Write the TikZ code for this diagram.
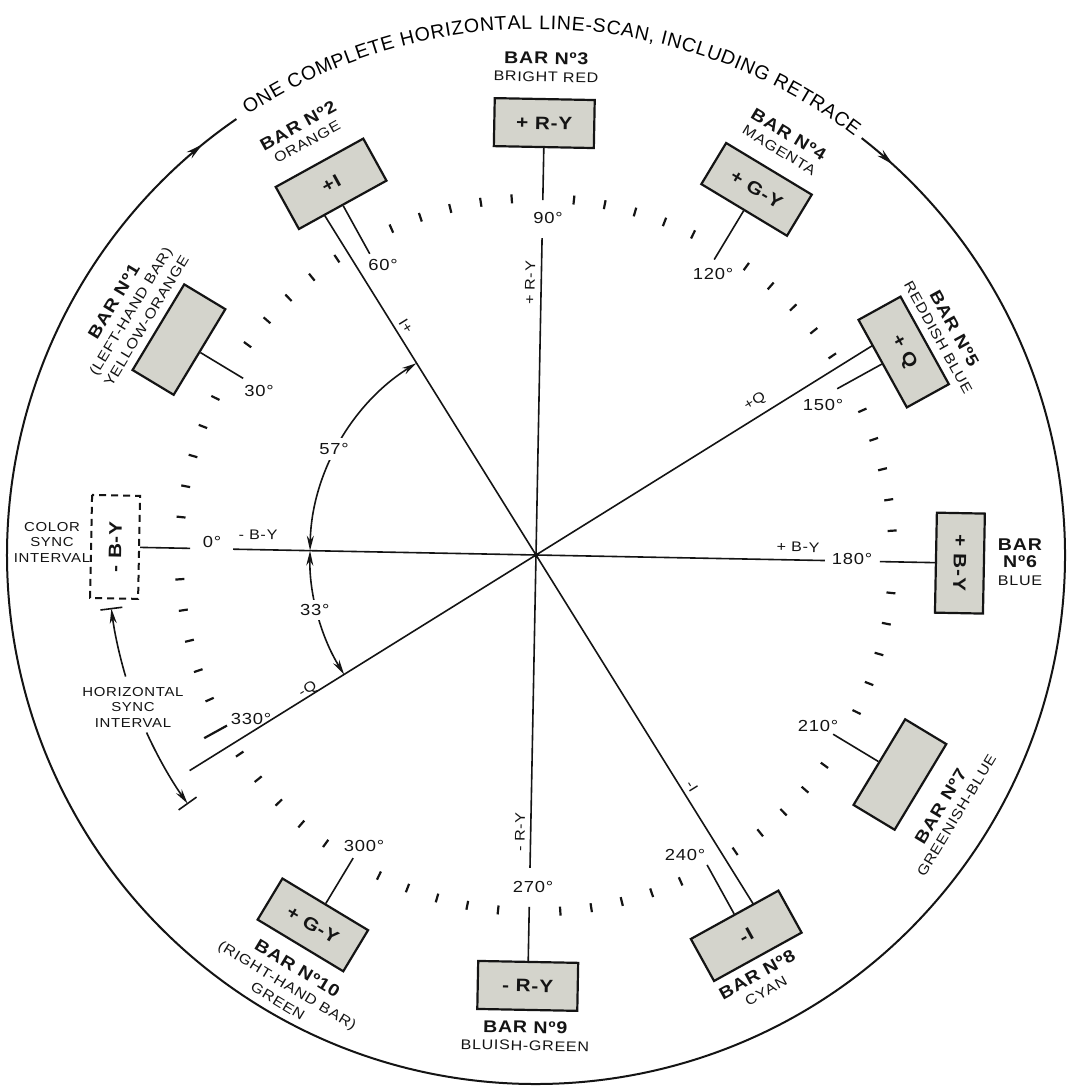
\documentclass[tikz,border=0pt]{standalone}
\usepackage{fontspec}
\setmainfont{Liberation Sans}
\newfontfamily\lsp[LetterSpace=5,FakeStretch=1.15]{Liberation Sans}
\newfontfamily\lspb[LetterSpace=5,FakeStretch=1.15]{Liberation Sans Bold}
\usetikzlibrary{arrows.meta,decorations.text,decorations.markings}
\pgfdeclarelayer{background}
\pgfsetlayers{background,main}
\definecolor{boxgray}{RGB}{212,212,204}
\definecolor{ink}{RGB}{20,20,20}
\newcommand\bartf{\lspb\fontsize{17}{17}\selectfont}
\newcommand\barsf{\lsp\fontsize{14}{17.5}\selectfont}
\newcommand\barsfw{\lsp\fontsize{14}{18.5}\selectfont}
\newcommand\degf{\lsp\fontsize{16}{17}\selectfont}
\newcommand\axf{\lsp\fontsize{14}{15}\selectfont}
\newcommand\boxf{\lspb\fontsize{18}{18}\selectfont}
\newcommand\smf{\lsp\fontsize{13}{15.5}\selectfont}
\newcommand\titlef{\fontsize{19.5}{20}\selectfont}
\begin{document}
\begin{tikzpicture}[x=1pt,y=1pt,
  every node/.style={text=ink},
  ax/.style={line width=1.6pt, draw=ink},
  tickmark/.style={line width=2.2pt, draw=ink},
  barbox/.style={draw=ink, line width=2.2pt, fill=boxgray, minimum width=100pt, minimum height=48pt, inner sep=0pt, font=\boxf},
  dashbox/.style={draw=ink, line width=2pt, dash pattern=on 7pt off 5pt, minimum width=103pt, minimum height=48pt, inner sep=0pt, font=\boxf},
  barlab/.style={align=center, font=\barsf, inner sep=0pt},
  barlabw/.style={align=center, font=\barsfw, inner sep=0pt},
  deg/.style={font=\degf, inner sep=1pt},
  axl/.style={font=\axf, inner sep=0pt},
  smlab/.style={align=center, font=\smf, inner sep=0pt},
  arctip/.style={{Stealth[length=15pt,width=7pt]}-{Stealth[length=15pt,width=7pt]}},
  onetip/.style={-{Stealth[length=15pt,width=7pt]}},
]
\useasboundingbox (0,0) rectangle (1070,1087);
\begin{pgfonlayer}{background}
\fill[white] (0,0) rectangle (1070,1087);
\end{pgfonlayer}
\begin{scope}[shift={(536,532)}]
\coordinate (C) at (0,0);
% outer scan circle with arrows
\draw[line width=2pt, draw=ink, postaction={decorate}, decoration={markings,
   mark=at position 0.0153 with {\arrow{Stealth[length=17pt,width=8pt]}},
   mark=at position 0.984 with {\arrow{Stealth[length=17pt,width=8pt]}}}]
   (52:529) arc[start angle=52, end angle=-235.5, radius=529];
% title along the arc
\path[decorate, decoration={text along path,
   text={|\titlef|ONE COMPLETE HORIZONTAL LINE-SCAN, INCLUDING RETRACE},
   text align={fit to path}}]
   (123.2:526) arc[start angle=123.2, end angle=52.8, radius=526];
% tick marks every 5 degrees
\foreach \t in {5,10,...,355}{
  \pgfmathtruncatemacro\m{mod(\t,30)}
  \ifnum\m>0 \draw[tickmark] ({178.9-\t}:352.5) -- ({178.9-\t}:361.5); \fi
}
\draw[tickmark] (-151.1:353) -- (-151.1:379);
% bars
\node[dashbox, rotate=88.9] (b0) at (178.9:421) {- B-Y};
\node[barbox, rotate=58.9] (b1) at (148.9:417) {};
\node[barbox, rotate=28.9] (b2) at (118.9:424) {+I};
\node[barbox, rotate=-1.1] (b3) at (88.9:432) {+ R-Y};
\node[barbox, rotate=-31.1] (b4) at (58.9:427) {+ G-Y};
\node[barbox, rotate=-61.1] (b5) at (28.9:420) {+ Q};
\node[barbox, rotate=-91.1] (b6) at (-1.1:424) {+ B-Y};
\node[barbox, rotate=58.9] (b7) at (-31.1:425) {};
\node[barbox, rotate=28.9] (b8) at (-61.1:435) {-I};
\node[barbox, rotate=-1.1] (b9) at (-91.1:431) {- R-Y};
\node[barbox, rotate=-31.1] (b10) at (-121.1:432) {+ G-Y};
% bar labels
\node[barlabw, rotate=58.9] (l1) at (149:474) {{\bartf BAR Nº1}\\(LEFT-HAND BAR)\\YELLOW-ORANGE};
\node[barlab, rotate=28.9] (l2) at (119:482) {{\bartf BAR Nº2}\\ORANGE};
\node[barlab, rotate=-1.1] (l3) at (88.8:488) {{\bartf BAR Nº3}\\BRIGHT RED};
\node[barlab, rotate=-31.1] (l4) at (59:482) {{\bartf BAR Nº4}\\MAGENTA};
\node[barlab, rotate=-61.1] (l5) at (28.4:467) {{\bartf BAR Nº5}\\REDDISH BLUE};
\node[barlab] (l6) at (484,-7) {{\bartf BAR}\\{\bartf Nº6}\\BLUE};
\node[barlab, rotate=58.9] (l7) at (-31.8:485) {{\bartf BAR Nº7}\\GREENISH-BLUE};
\node[barlab, rotate=28.9] (l8) at (-62.2:483) {{\bartf BAR Nº8}\\CYAN};
\node[barlab, rotate=-1.1] (l9) at (-91.3:481) {{\bartf BAR Nº9}\\BLUISH-GREEN};
\node[barlabw, rotate=-31.1] (l10) at (-120:496) {{\bartf BAR Nº10}\\(RIGHT-HAND BAR)\\GREEN};
% degree labels
\node[deg] (d0) at (-324,13) {0°};
\node[deg] (d30) at (-277,164) {30°};
\node[deg] (d60) at (-153,290) {60°};
\node[deg] (d90) at (12,337) {90°};
\node[deg] (d120) at (177,281) {120°};
\node[deg] (d150) at (287,150) {150°};
\node[deg] (d180) at (316,-4) {180°};
\node[deg] (d210) at (282,-171) {210°};
\node[deg] (d240) at (149,-300) {240°};
\node[deg] (d270) at (-3,-332) {270°};
\node[deg] (d300) at (-172,-291) {300°};
\node[deg] (d330) at (-285,-164) {330°};
% axis labels
\node[axl, rotate=-1.1] (aBYm) at (-278,20) {- B-Y};
\node[axl, rotate=-1.1] (aBYp) at (262,8) {+ B-Y};
\node[axl, rotate=31.9] (aQp) at (219,153) {+Q};
\node[axl, rotate=31.9] (aQm) at (-228,-135) {-Q};
\node[axl, rotate=121.9] (aIp) at (-130,229) {+I};
\node[axl, rotate=-58.1] (aIm) at (156,-231) {-I};
\node[axl, rotate=88.9] (aRYp) at (-6,272) {+ R-Y};
\node[axl, rotate=88.9] (aRYm) at (-16,-277) {- R-Y};
% side texts
\node[smlab] (csi) at (-484,13) {COLOR\\SYNC\\INTERVAL};
\node[smlab] (hsi) at (-403,-152) {HORIZONTAL\\SYNC\\INTERVAL};
% axes through the centre (behind the bars)
\begin{pgfonlayer}{background}
\draw[ax] (C) -- (178.9:303);
\draw[ax] (C) -- (-1.1:289);
\draw[ax] (C) -- (88.9:317);
\draw[ax] (C) -- (-91.1:313);
\draw[ax] (C) -- (121.9:410);
\draw[ax] (C) -- (-58.1:420);
\draw[ax] (C) -- (31.9:405);
\draw[ax] (C) -- (211.9:408);
\end{pgfonlayer}
\fill[ink] (C) circle (2.5pt);
% connectors from degree marks to bars
\coordinate (k0) at (178.9:346);
\coordinate (k30) at (148.9:342);
\coordinate (k60) at (118.9:344);
\coordinate (k90) at (88.9:355);
\coordinate (k120) at (58.9:345);
\coordinate (k150) at (28.9:344);
\coordinate (k180) at (-1.1:344);
\coordinate (k210) at (-31.1:347);
\coordinate (k240) at (-61.1:354);
\coordinate (k270) at (-91.1:352);
\coordinate (k300) at (-121.1:354);
\draw[ax] (k0) -- (b0);
\draw[ax] (k30) -- (b1);
\draw[ax] (k60) -- (b2);
\draw[ax] (k90) -- (b3);
\draw[ax] (k120) -- (b4);
\draw[ax] (k150) -- (b5);
\draw[ax] (k180) -- (b6);
\draw[ax] (k210) -- (b7);
\draw[ax] (k240) -- (b8);
\draw[ax] (k270) -- (b9);
\draw[ax] (k300) -- (b10);
% angle arcs 57 and 33
\draw[ax, arctip] (178.9:226) arc[start angle=178.9, end angle=121.9, radius=226];
\node[deg, fill=white, inner sep=5pt] (a57) at (152.3:228) {57°};
\draw[ax, arctip] (178.9:226) arc[start angle=178.9, end angle=211.9, radius=226];
\node[deg, fill=white, inner sep=4pt] (a33) at (-166:228) {33°};
% horizontal sync interval arrows
\coordinate (hsU) at (196.5:428);
\coordinate (hsL) at (204.5:428);
\draw[ax, onetip] (hsU) arc[start angle=196.5, end angle=187.2, radius=428];
\draw[ax] (187.2:417) -- (187.2:439);
\draw[ax, onetip] (hsL) arc[start angle=204.5, end angle=215.5, radius=428];
\draw[ax] (215.5:417) -- (215.5:439);
\end{scope}
\end{tikzpicture}
\end{document}
